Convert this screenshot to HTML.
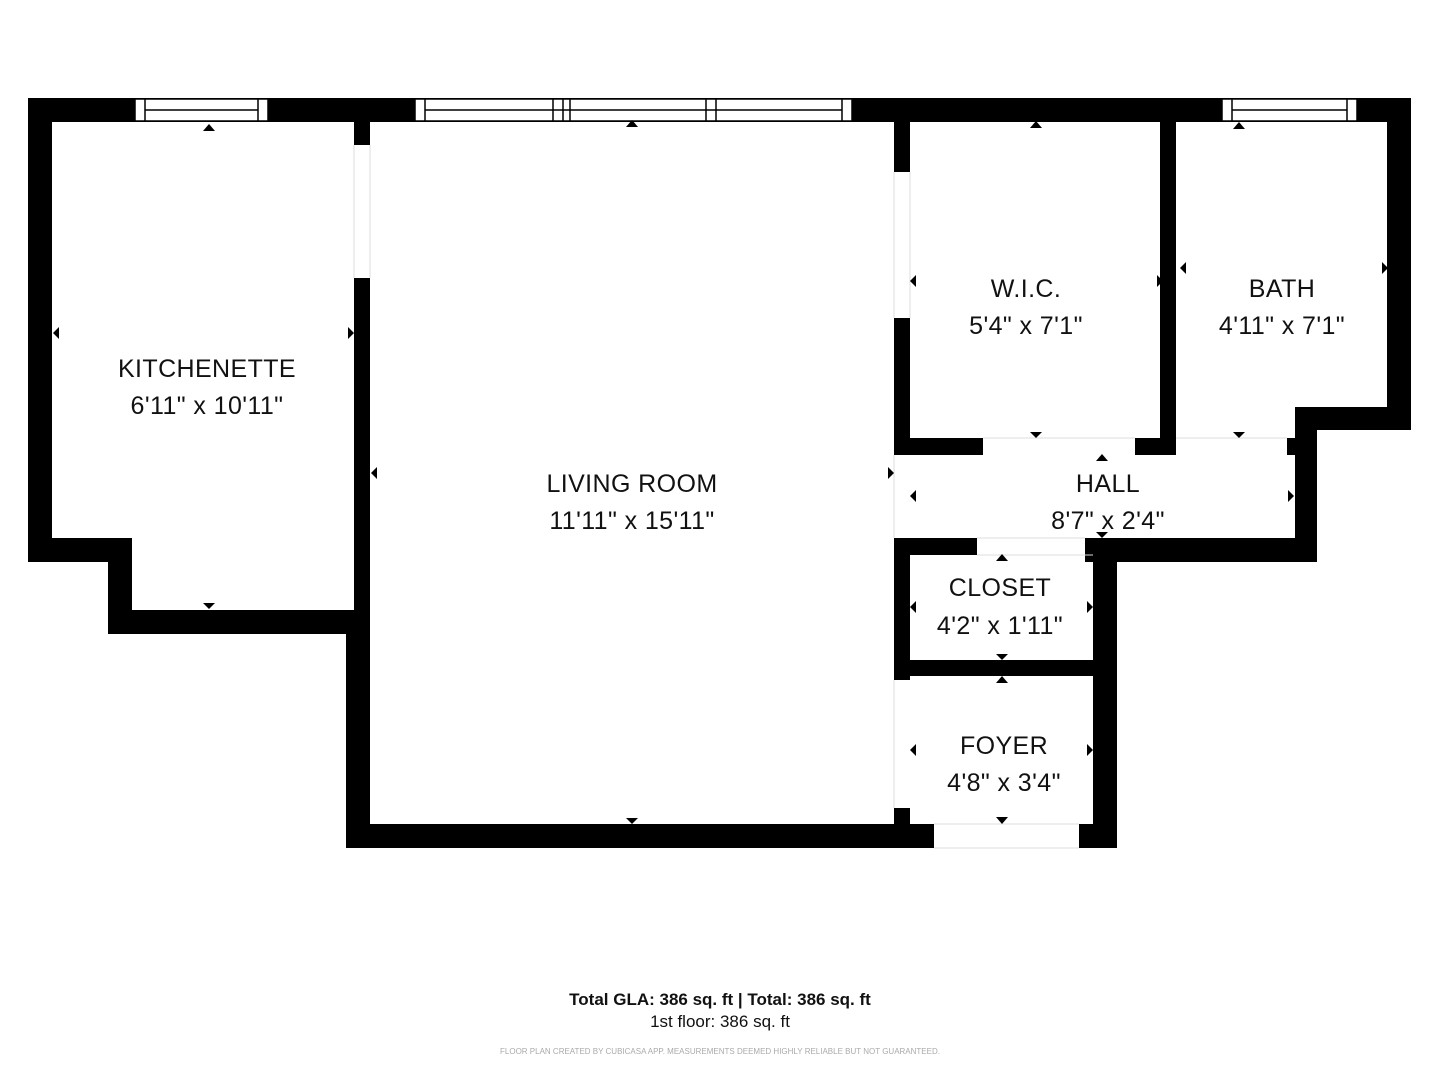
<!DOCTYPE html>
<html><head><meta charset="utf-8"><style>
html,body{margin:0;padding:0;background:#fff;}
svg{display:block;}
text{font-family:"Liberation Sans",sans-serif;fill:#111;}
</style></head><body>
<svg width="1440" height="1080" viewBox="0 0 1440 1080" xmlns="http://www.w3.org/2000/svg">
<g fill="#000">
<rect x="28" y="98" width="1383" height="24"/>
<rect x="28" y="98" width="24" height="464"/>
<rect x="28" y="538" width="104" height="24"/>
<rect x="108" y="538" width="24" height="96"/>
<rect x="108" y="610" width="262" height="24"/>
<rect x="354" y="122" width="16" height="23"/>
<rect x="354" y="278" width="16" height="340"/>
<rect x="346" y="610" width="24" height="238"/>
<rect x="346" y="824" width="588" height="24"/>
<rect x="894" y="122" width="16" height="50"/>
<rect x="894" y="318" width="16" height="137"/>
<rect x="894" y="438" width="89" height="17"/>
<rect x="1135" y="438" width="41" height="17"/>
<rect x="1160" y="122" width="16" height="333"/>
<rect x="1387" y="98" width="24" height="332"/>
<rect x="1295" y="407" width="116" height="23"/>
<rect x="1295" y="407" width="22" height="155"/>
<rect x="1287" y="438" width="10" height="17"/>
<rect x="1085" y="538" width="232" height="24"/>
<rect x="1093" y="538" width="24" height="310"/>
<rect x="894" y="538" width="83" height="17"/>
<rect x="894" y="538" width="16" height="142"/>
<rect x="894" y="660" width="216" height="16"/>
<rect x="880" y="824" width="54" height="24"/>
<rect x="894" y="808" width="16" height="40"/>
<rect x="1079" y="824" width="38" height="24"/>
</g>
<g stroke="#ddd" stroke-width="1" fill="none">
<line x1="354" y1="145" x2="354" y2="278"/><line x1="370" y1="145" x2="370" y2="278"/>
<line x1="894" y1="172" x2="894" y2="318"/><line x1="910" y1="172" x2="910" y2="318"/>
<line x1="894" y1="455" x2="894" y2="538"/>
<line x1="983" y1="438" x2="1135" y2="438"/><line x1="1176" y1="438" x2="1287" y2="438"/>
<line x1="977" y1="538" x2="1085" y2="538"/><line x1="977" y1="555" x2="1093" y2="555"/>
<line x1="894" y1="680" x2="894" y2="808"/>
<line x1="934" y1="824" x2="1079" y2="824"/><line x1="934" y1="848" x2="1079" y2="848"/>
</g>
<g fill="#fff" stroke="#000" stroke-width="1.5">
<rect x="135" y="99" width="133" height="22"/>
<line x1="145" y1="99" x2="145" y2="121"/><line x1="258" y1="99" x2="258" y2="121"/>
<line x1="145" y1="110" x2="258" y2="110"/>
<rect x="415" y="99" width="437" height="22"/>
<line x1="425" y1="99" x2="425" y2="121"/><line x1="842" y1="99" x2="842" y2="121"/>
<line x1="553" y1="99" x2="553" y2="121"/><line x1="563" y1="99" x2="563" y2="121"/>
<line x1="570" y1="99" x2="570" y2="121"/><line x1="706" y1="99" x2="706" y2="121"/>
<line x1="716" y1="99" x2="716" y2="121"/>
<line x1="425" y1="110" x2="842" y2="110"/>
<rect x="1222" y="99" width="135" height="22"/>
<line x1="1232" y1="99" x2="1232" y2="121"/><line x1="1347" y1="99" x2="1347" y2="121"/>
<line x1="1232" y1="110" x2="1347" y2="110"/>
</g>
<g fill="#000">
<polygon points="203,131 215,131 209,124"/>
<polygon points="626,127 638,127 632,120"/>
<polygon points="1030,128 1042,128 1036,121"/>
<polygon points="1233,129 1245,129 1239,122"/>
<polygon points="1096,461 1108,461 1102,454"/>
<polygon points="996,561 1008,561 1002,554"/>
<polygon points="996,683 1008,683 1002,676"/>
<polygon points="203,603 215,603 209,609"/>
<polygon points="626,818 638,818 632,824"/>
<polygon points="1030,432 1042,432 1036,438"/>
<polygon points="1233,432 1245,432 1239,438"/>
<polygon points="1096,532 1108,532 1102,538"/>
<polygon points="996,654 1008,654 1002,660"/>
<polygon points="996,817 1008,817 1002,824"/>
<polygon points="59,327 59,339 53,333"/>
<polygon points="377,467 377,479 371,473"/>
<polygon points="916,275 916,287 910,281"/>
<polygon points="1186,262 1186,274 1180,268"/>
<polygon points="916,490 916,502 910,496"/>
<polygon points="916,601 916,613 910,607"/>
<polygon points="916,744 916,756 910,750"/>
<polygon points="348,327 348,339 354,333"/>
<polygon points="888,467 888,479 894,473"/>
<polygon points="1157,275 1157,287 1163,281"/>
<polygon points="1382,262 1382,274 1388,268"/>
<polygon points="1288,490 1288,502 1294,496"/>
<polygon points="1087,601 1087,613 1093,607"/>
<polygon points="1087,744 1087,756 1093,750"/>
</g>
<g font-size="25" text-anchor="middle" style="letter-spacing:0.4px">
<text x="207" y="377">KITCHENETTE</text><text x="207" y="414">6'11" x 10'11"</text>
<text x="632" y="492">LIVING ROOM</text><text x="632" y="529">11'11" x 15'11"</text>
<text x="1026" y="297">W.I.C.</text><text x="1026" y="334">5'4" x 7'1"</text>
<text x="1282" y="297">BATH</text><text x="1282" y="334">4'11" x 7'1"</text>
<text x="1108" y="492">HALL</text><text x="1108" y="529">8'7" x 2'4"</text>
<text x="1000" y="596">CLOSET</text><text x="1000" y="634">4'2" x 1'11"</text>
<text x="1004" y="754">FOYER</text><text x="1004" y="791">4'8" x 3'4"</text>
</g>
<text x="720" y="1005" font-size="17" font-weight="bold" text-anchor="middle">Total GLA: 386 sq. ft | Total: 386 sq. ft</text>
<text x="720" y="1027" font-size="17" text-anchor="middle">1st floor: 386 sq. ft</text>
<text x="720" y="1054" font-size="8" text-anchor="middle" style="fill:#aaa">FLOOR PLAN CREATED BY CUBICASA APP. MEASUREMENTS DEEMED HIGHLY RELIABLE BUT NOT GUARANTEED.</text>
</svg>
</body></html>
